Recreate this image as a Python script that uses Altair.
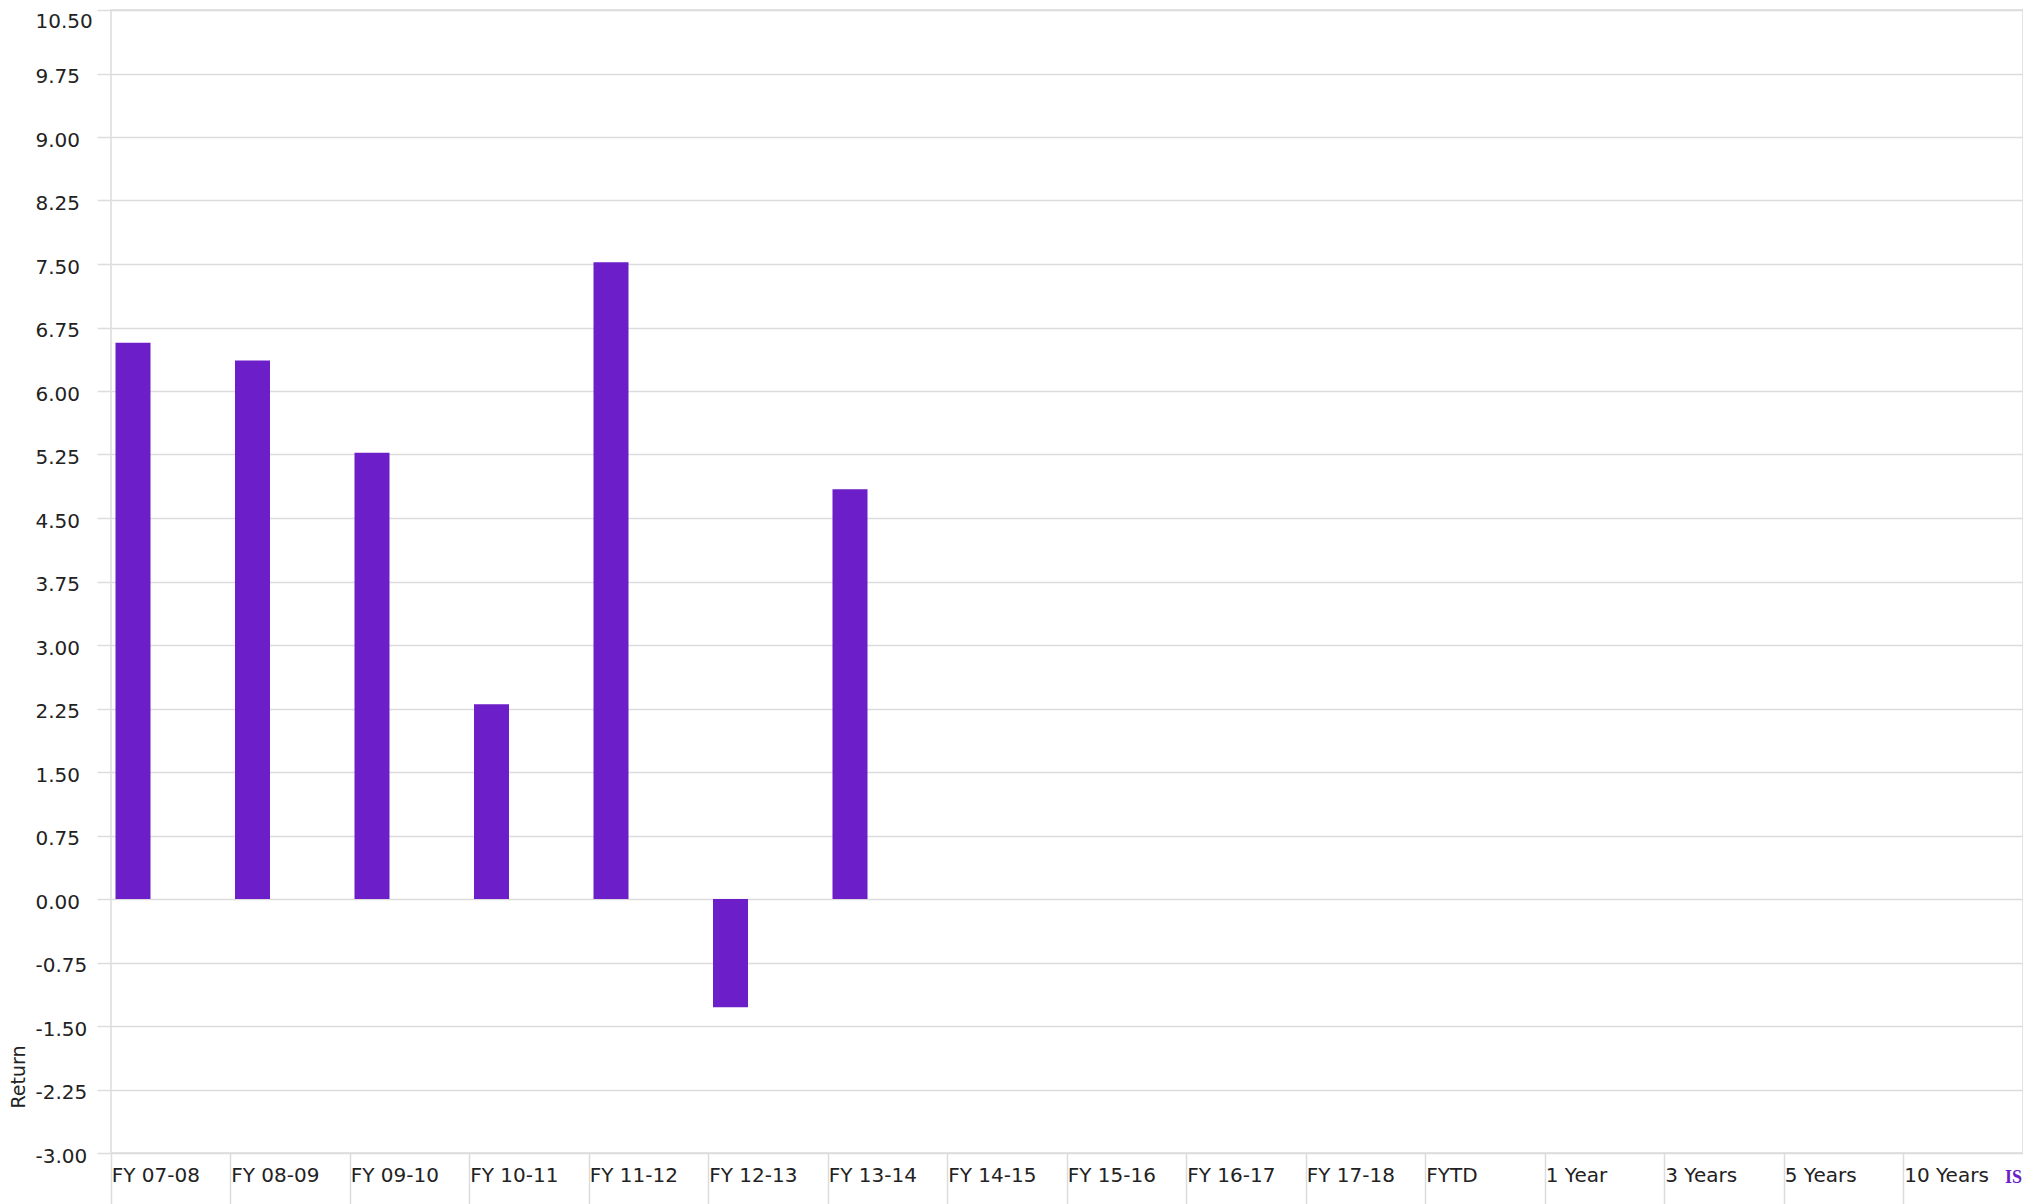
import altair as alt
import pandas as pd

categories = ["FY 07-08", "FY 08-09", "FY 09-10", "FY 10-11", "FY 11-12", "FY 12-13",
              "FY 13-14", "FY 14-15", "FY 15-16", "FY 16-17", "FY 17-18", "FYTD",
              "1 Year", "3 Years", "5 Years", "10 Years"]
returns = [6.57, 6.36, 5.27, 2.30, 7.52, -1.28, 4.84,
           None, None, None, None, None, None, None, None, None]
y_ticks = [-3.00, -2.25, -1.50, -0.75, 0.00, 0.75, 1.50, 2.25, 3.00, 3.75,
           4.50, 5.25, 6.00, 6.75, 7.50, 8.25, 9.00, 9.75, 10.50]
note_text = ["IS"]

df = pd.DataFrame({"Period": categories, "Return": returns})

GRID = "#dcdcdc"
FONT = "DejaVu Sans"
W, H = 1912, 1143

y_label_expr = ("datum.value < 0 ? '-' + format(-datum.value, '.2f') "
                ": format(datum.value, '.2f')")

bars = alt.Chart(df).mark_bar(width=35, xOffset=-37.75, color="#6C1EC8").encode(
    x=alt.X("Period:N", sort=categories,
            scale=alt.Scale(domain=categories, paddingInner=0, paddingOuter=0),
            axis=alt.Axis(title=None, bandPosition=0, labelAlign="left",
                          labelBaseline="alphabetic",
                          labelAngle=0, labelPadding=-32, tickSize=60, tickColor=GRID,
                          tickWidth=1.5, gridColor=GRID, gridWidth=1.5, domain=False,
                          labelFont=FONT, labelFontSize=20, labelColor="#222",
                          labelOffset=-59)),
    y=alt.Y("Return:Q",
            scale=alt.Scale(domain=[-3, 10.5], nice=False, zero=False),
            axis=alt.Axis(values=y_ticks, labelExpr=y_label_expr, labelAlign="left",
                          labelBaseline="alphabetic",
                          labelOffset={"condition": {"test": "datum.value >= 10.5", "value": 17},
                                       "value": 9},
                          labelPadding=62, tickSize=14, tickColor=GRID, tickWidth=1.5,
                          gridColor=GRID, gridWidth=1.5, domain=False,
                          labelFont=FONT, labelFontSize=20, labelColor="#222",
                          title="Return", titleAngle=270, titleAlign="left",
                          titleBaseline="middle", titleX=-93, titleY=1098,
                          titleFont=FONT, titleFontSize=19, titleFontWeight="normal",
                          titleColor="#222")),
)

note = alt.Chart(pd.DataFrame({"t": note_text})).mark_text(
    align="left", baseline="alphabetic", font="Liberation Serif", fontSize=18,
    fontWeight="bold", color="#6C1EC8"
).encode(text="t:N", x=alt.value(1894), y=alt.value(1173))

chart = alt.layer(bars, note).properties(
    width=W, height=H,
    autosize=alt.AutoSizeParams(type="none"),
    padding={"left": 103, "top": 2, "right": 0, "bottom": 60},
).configure_view(stroke=GRID, strokeWidth=1.5)

chart.save("out.html", embed_options={"renderer": "svg", "actions": False})
